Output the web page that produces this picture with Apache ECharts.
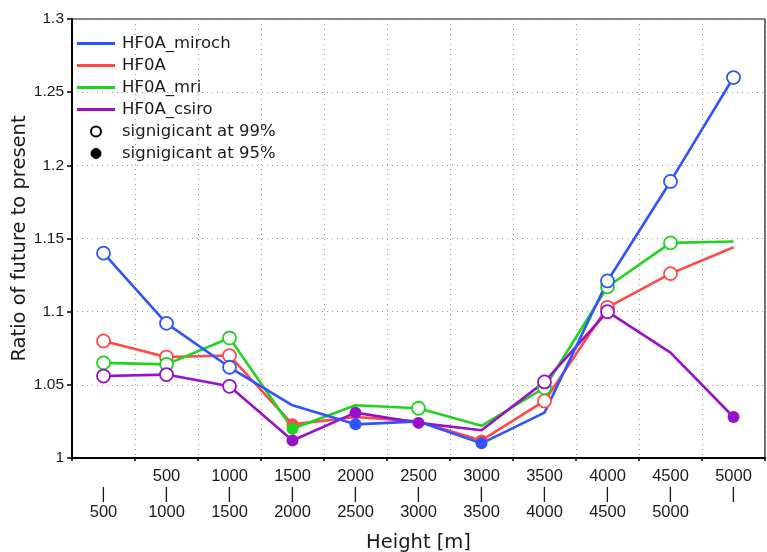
<!DOCTYPE html>
<html>
<head>
<meta charset="utf-8">
<title>Ratio of future to present by height</title>
<script src="https://cdn.jsdelivr.net/npm/echarts/dist/echarts.min.js"></script>
<style>
  html, body { margin: 0; padding: 0; background: #fff; }
  #chart { width: 767px; height: 552px; }
</style>
</head>
<body>
<div id="chart"></div>
<script>
// Height layers: lower and upper bound of each layer [m]
const layerBottom = ['', '500', '1000', '1500', '2000', '2500', '3000', '3500', '4000', '4500', '5000'];
const layerTop    = ['500', '1000', '1500', '2000', '2500', '3000', '3500', '4000', '4500', '5000', ''];
const categories  = ['0-500', '500-1000', '1000-1500', '1500-2000', '2000-2500', '2500-3000',
                     '3000-3500', '3500-4000', '4000-4500', '4500-5000', '5000-'];

// Ratio of future to present for each experiment
const mirochValues = [1.140, 1.092, 1.062, 1.036, 1.023, 1.025, 1.010, 1.031, 1.121, 1.189, 1.260];
const hf0aValues   = [1.080, 1.069, 1.070, 1.023, 1.028, 1.025, 1.012, 1.039, 1.103, 1.126, 1.144];
const mriValues    = [1.065, 1.064, 1.082, 1.020, 1.036, 1.034, 1.022, 1.048, 1.117, 1.147, 1.148];
const csiroValues  = [1.056, 1.057, 1.049, 1.012, 1.031, 1.024, 1.019, 1.052, 1.100, 1.072, 1.028];

// Significance per point: 'o' = significant at 99%, 'f' = significant at 95%, '' = not significant
const mirochSig = ['o', 'o', 'o', '',  'f', '',  'f', '',  'o', 'o', 'o'];
const hf0aSig   = ['o', 'o', 'o', 'f', '',  '',  'f', 'o', 'o', 'o', ''];
const mriSig    = ['o', 'o', 'o', 'f', '',  'o', '',  'o', 'o', 'o', ''];
const csiroSig  = ['o', 'o', 'o', 'f', 'f', 'f', '',  'o', 'o', '',  'f'];

const yTickLabels = ['1', '1.05', '1.1', '1.15', '1.2', '1.25', '1.3'];

const COLORS = {
  miroch: '#2f54ff',
  hf0a: '#ff4848',
  mri: '#1fd41f',
  csiro: '#9a10c8'
};

const NUM_FONT = "'Liberation Sans', Arial, sans-serif";
const NAME_FONT = "'DejaVu Sans', sans-serif";

function pointData(values, sig, color) {
  return values.map(function (v, i) {
    if (sig[i] === 'o') {
      return { value: v, symbol: 'circle', symbolSize: 13,
               itemStyle: { color: '#ffffff', borderColor: color, borderWidth: 1.8 } };
    }
    if (sig[i] === 'f') {
      return { value: v, symbol: 'circle', symbolSize: 12,
               itemStyle: { color: color, borderColor: color, borderWidth: 0 } };
    }
    return { value: v, symbol: 'none' };
  });
}

function lineSeries(name, values, sig, color) {
  return {
    name: name,
    type: 'line',
    data: pointData(values, sig, color),
    symbol: 'circle',
    showSymbol: true,
    showAllSymbol: true,
    lineStyle: { color: color, width: 2.6 },
    itemStyle: { color: color },
    emphasis: { disabled: true },
    animation: false
  };
}

const linePath = 'path://M0,0H38V3H0Z';

const chart = echarts.init(document.getElementById('chart'), null, { renderer: 'canvas' });

chart.setOption({
  backgroundColor: '#ffffff',
  animation: false,
  grid: {
    left: 72, right: 2, top: 19, bottom: 94,
    show: true, borderColor: '#111', borderWidth: 1.2, backgroundColor: 'transparent',
    outerBoundsMode: 'none', containLabel: false
  },
  legend: {
    orient: 'vertical',
    left: 72,
    top: 30,
    itemWidth: 38,
    itemHeight: 10,
    itemGap: 5,
    selectedMode: false,
    textStyle: { fontFamily: NAME_FONT, fontSize: 16.5, color: '#1a1a1a', lineHeight: 17, padding: [0, 0, 0, 2] },
    data: [
      { name: 'HF0A_miroch', icon: linePath, itemStyle: { color: COLORS.miroch } },
      { name: 'HF0A', icon: linePath, itemStyle: { color: COLORS.hf0a } },
      { name: 'HF0A_mri', icon: linePath, itemStyle: { color: COLORS.mri } },
      { name: 'HF0A_csiro', icon: linePath, itemStyle: { color: COLORS.csiro } },
      { name: 'signigicant at 99%', icon: 'circle',
        itemStyle: { color: '#ffffff', borderColor: '#000', borderWidth: 2 } },
      { name: 'signigicant at 95%', icon: 'circle',
        itemStyle: { color: '#000', borderColor: '#000', borderWidth: 1 } }
    ]
  },
  xAxis: {
    type: 'category',
    data: categories,
    boundaryGap: true,
    name: 'Height [m]',
    nameLocation: 'middle',
    nameGap: 75,
    nameMoveOverlap: false,
    nameTextStyle: { fontFamily: NAME_FONT, fontSize: 19.5, color: '#1a1a1a' },
    axisLine: { show: true, onZero: false, lineStyle: { color: '#000', width: 2 } },
    axisTick: { show: true, inside: false, length: 3, interval: 0, lineStyle: { color: '#000', width: 1.5 } },
    axisLabel: {
      interval: 0,
      margin: 9,
      fontFamily: NUM_FONT,
      fontSize: 16.5,
      color: '#1a1a1a',
      lineHeight: 18,
      formatter: function (v, i) {
        return layerBottom[i] + '\n|\n' + layerTop[i];
      }
    },
    splitLine: { show: true, interval: 0, lineStyle: { color: '#999', width: 1, type: [1, 4] } }
  },
  yAxis: {
    type: 'value',
    min: 1,
    max: 1.3,
    interval: 0.05,
    name: 'Ratio of future to present',
    nameLocation: 'middle',
    nameRotate: 90,
    nameGap: 42,
    nameMoveOverlap: false,
    nameTextStyle: { fontFamily: NAME_FONT, fontSize: 19.5, color: '#1a1a1a' },
    axisLine: { show: true, lineStyle: { color: '#000', width: 2 } },
    axisTick: { show: true, inside: false, length: 5, lineStyle: { color: '#000', width: 1.5 } },
    axisLabel: {
      margin: 8,
      fontFamily: NUM_FONT,
      fontSize: 15.5,
      color: '#1a1a1a',
      formatter: function (v) {
        const idx = Math.round((v - 1) / 0.05);
        return yTickLabels[idx] !== undefined ? yTickLabels[idx] : String(v);
      }
    },
    splitLine: { show: true, lineStyle: { color: '#999', width: 1, type: [1, 4] } }
  },
  series: [
    lineSeries('HF0A', hf0aValues, hf0aSig, COLORS.hf0a),
    lineSeries('HF0A_mri', mriValues, mriSig, COLORS.mri),
    lineSeries('HF0A_csiro', csiroValues, csiroSig, COLORS.csiro),
    lineSeries('HF0A_miroch', mirochValues, mirochSig, COLORS.miroch),
    // legend-only entries for the significance markers
    { name: 'signigicant at 99%', type: 'line', data: [] },
    { name: 'signigicant at 95%', type: 'line', data: [] }
  ]
});
</script>
</body>
</html>
